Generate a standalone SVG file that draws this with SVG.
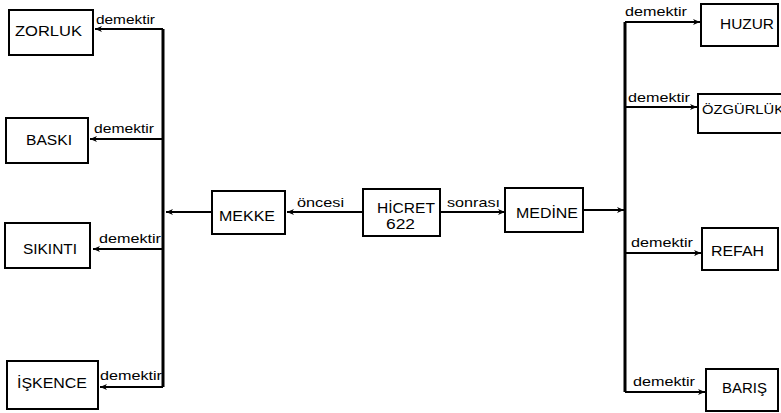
<svg xmlns="http://www.w3.org/2000/svg" width="781" height="413" viewBox="0 0 781 413">
<style>
.box{fill:#fff;stroke:#000;stroke-width:2}
.t{font-family:"Liberation Sans",Arial,sans-serif;font-size:14px;fill:#000}
.l{font-family:"Liberation Sans",Arial,sans-serif;font-size:13px;fill:#000}
.c{fill:none;stroke:#000;stroke-width:2}
.v{fill:none;stroke:#000;stroke-width:3}
</style>
<defs>
<marker id="ah" viewBox="0 0 8 8" refX="7" refY="4" markerWidth="8" markerHeight="8" markerUnits="userSpaceOnUse" orient="auto">
<path d="M0,1 L7,4 L0,7 L2,4 z" fill="#000"/>
</marker>
</defs>
<rect width="781" height="413" fill="#fff"/>
<g id="connectors">
<path class="v" d="M163,29 L163,387"/>
<path class="c" d="M163,29 L95,29" marker-end="url(#ah)"/>
<path class="c" d="M163,139 L90,139" marker-end="url(#ah)"/>
<path class="c" d="M163,249 L93,249" marker-end="url(#ah)"/>
<path class="c" d="M163,387 L100,387" marker-end="url(#ah)"/>
<path class="c" d="M212,212 L166,212" marker-end="url(#ah)"/>
<path class="c" d="M363,212 L287,212" marker-end="url(#ah)"/>
<path class="c" d="M440,212 L505,212" marker-end="url(#ah)"/>
<path class="c" d="M583,210 L624,210" marker-end="url(#ah)"/>
<path class="v" d="M625,22 L625,392"/>
<path class="c" d="M625,22 L700,22" marker-end="url(#ah)"/>
<path class="c" d="M625,107 L697,107" marker-end="url(#ah)"/>
<path class="c" d="M625,253 L701,253" marker-end="url(#ah)"/>
<path class="c" d="M625,392 L705,392" marker-end="url(#ah)"/>
<text class="l" x="96" y="24" textLength="59" lengthAdjust="spacingAndGlyphs">demektir</text>
<text class="l" x="94" y="133" textLength="60" lengthAdjust="spacingAndGlyphs">demektir</text>
<text class="l" x="99" y="243" textLength="62" lengthAdjust="spacingAndGlyphs">demektir</text>
<text class="l" x="100" y="380" textLength="62" lengthAdjust="spacingAndGlyphs">demektir</text>
<text class="l" x="297" y="207" textLength="47" lengthAdjust="spacingAndGlyphs">öncesi</text>
<text class="l" x="447" y="207" textLength="53" lengthAdjust="spacingAndGlyphs">sonrası</text>
<text class="l" x="625" y="16" textLength="62" lengthAdjust="spacingAndGlyphs">demektir</text>
<text class="l" x="628" y="102" textLength="62" lengthAdjust="spacingAndGlyphs">demektir</text>
<text class="l" x="631" y="247" textLength="62" lengthAdjust="spacingAndGlyphs">demektir</text>
<text class="l" x="633" y="386" textLength="62" lengthAdjust="spacingAndGlyphs">demektir</text>
</g>
<g id="zorluk"><rect class="box" x="9" y="10" width="84" height="45"/><text class="t" x="15" y="36" textLength="67" lengthAdjust="spacingAndGlyphs">ZORLUK</text></g>
<g id="baski"><rect class="box" x="6" y="118" width="82" height="45"/><text class="t" x="26" y="145" textLength="46" lengthAdjust="spacingAndGlyphs">BASKI</text></g>
<g id="sikinti"><rect class="box" x="5" y="223" width="85" height="45"/><text class="t" x="23" y="254" textLength="54" lengthAdjust="spacingAndGlyphs">SIKINTI</text></g>
<g id="iskence"><rect class="box" x="7" y="361" width="91" height="48"/><text class="t" x="17" y="388" textLength="70" lengthAdjust="spacingAndGlyphs">İŞKENCE</text></g>
<g id="mekke"><rect class="box" x="212" y="191" width="73" height="43"/><text class="t" x="219" y="221" textLength="56" lengthAdjust="spacingAndGlyphs">MEKKE</text></g>
<g id="hicret"><rect class="box" x="363" y="189" width="77" height="47"/><text class="t" x="377" y="213" textLength="58" lengthAdjust="spacingAndGlyphs">HİCRET</text><text class="t" x="386" y="229" textLength="29" lengthAdjust="spacingAndGlyphs">622</text></g>
<g id="medine"><rect class="box" x="505" y="188" width="78" height="44"/><text class="t" x="516" y="218" textLength="62" lengthAdjust="spacingAndGlyphs">MEDİNE</text></g>
<g id="huzur"><rect class="box" x="701" y="4" width="77" height="42"/><text class="t" x="720" y="29" textLength="54" lengthAdjust="spacingAndGlyphs">HUZUR</text></g>
<g id="ozgurluk"><rect class="box" x="698" y="94" width="90" height="39"/><text class="l" x="702" y="114" font-size="11" textLength="82" lengthAdjust="spacingAndGlyphs">ÖZGÜRLÜK</text></g>
<g id="refah"><rect class="box" x="702" y="228" width="76" height="42"/><text class="t" x="711" y="256" textLength="53" lengthAdjust="spacingAndGlyphs">REFAH</text></g>
<g id="baris"><rect class="box" x="706" y="369" width="72" height="42"/><text class="t" x="722" y="393" textLength="45" lengthAdjust="spacingAndGlyphs">BARIŞ</text></g>
</svg>
